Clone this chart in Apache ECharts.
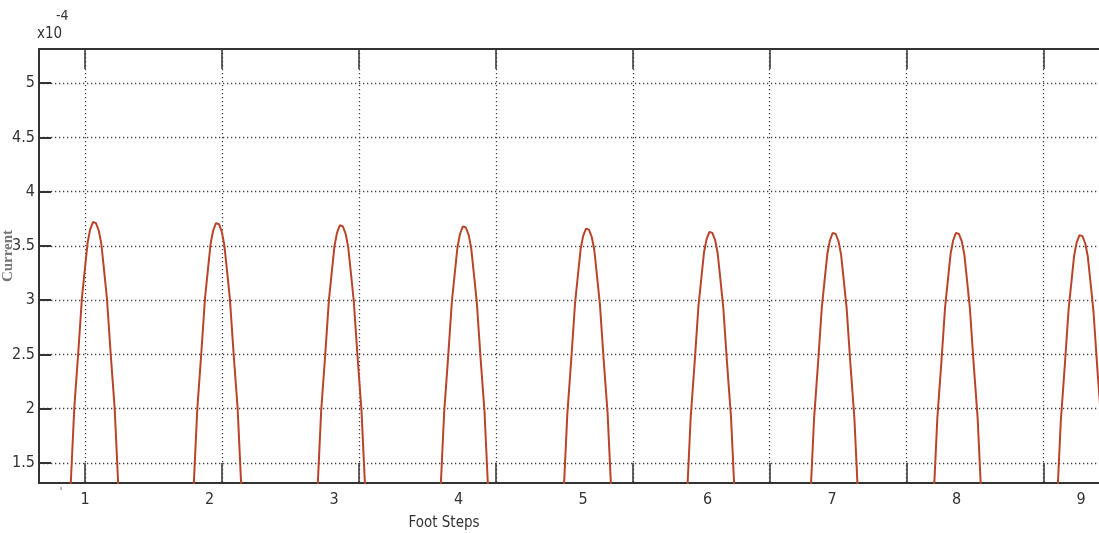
<!DOCTYPE html>
<html>
<head>
<meta charset="utf-8">
<script src="https://cdn.jsdelivr.net/npm/echarts@6/dist/echarts.min.js"></script>
<style>
  html, body { margin: 0; padding: 0; background: #fff; }
  #chart { width: 1099px; height: 533px; }
</style>
</head>
<body>
<div id="chart"></div>
<script>
// values, current in units of 1e-4
var pulse1 = [[0.836,0.3],[0.886,1.32],[0.914,2.01],[0.946,2.52],[0.976,3.03],[1.001,3.31],[1.021,3.53],[1.041,3.65],[1.064,3.72],[1.088,3.71],[1.111,3.64],[1.131,3.52],[1.151,3.30],[1.176,3.02],[1.206,2.51],[1.238,2.01],[1.266,1.32],[1.316,0.3]];
var pulse2 = [[1.824,0.3],[1.874,1.31],[1.902,2.00],[1.934,2.51],[1.964,3.02],[1.989,3.30],[2.009,3.52],[2.029,3.64],[2.052,3.71],[2.076,3.70],[2.099,3.63],[2.119,3.51],[2.139,3.29],[2.164,3.01],[2.194,2.50],[2.226,2.00],[2.254,1.31],[2.304,0.3]];
var pulse3 = [[2.819,0.3],[2.869,1.29],[2.897,1.98],[2.929,2.49],[2.959,3.00],[2.984,3.28],[3.004,3.50],[3.024,3.62],[3.047,3.69],[3.071,3.68],[3.094,3.61],[3.114,3.49],[3.134,3.27],[3.159,2.99],[3.189,2.48],[3.221,1.98],[3.249,1.29],[3.299,0.3]];
var pulse4 = [[3.807,0.3],[3.857,1.28],[3.885,1.97],[3.917,2.48],[3.947,2.99],[3.972,3.27],[3.992,3.49],[4.012,3.61],[4.035,3.68],[4.059,3.67],[4.082,3.60],[4.102,3.48],[4.122,3.26],[4.147,2.98],[4.177,2.47],[4.209,1.97],[4.237,1.28],[4.287,0.3]];
var pulse5 = [[4.796,0.3],[4.846,1.26],[4.874,1.95],[4.906,2.46],[4.936,2.97],[4.961,3.25],[4.981,3.47],[5.001,3.59],[5.024,3.66],[5.048,3.65],[5.071,3.58],[5.091,3.46],[5.111,3.24],[5.136,2.96],[5.166,2.45],[5.198,1.95],[5.226,1.26],[5.276,0.3]];
var pulse6 = [[5.787,0.3],[5.837,1.23],[5.865,1.92],[5.897,2.43],[5.927,2.94],[5.952,3.22],[5.972,3.44],[5.992,3.56],[6.015,3.63],[6.039,3.62],[6.062,3.55],[6.082,3.43],[6.102,3.21],[6.127,2.93],[6.157,2.42],[6.189,1.92],[6.217,1.23],[6.267,0.3]];
var pulse7 = [[6.778,0.3],[6.828,1.22],[6.856,1.91],[6.888,2.42],[6.918,2.93],[6.943,3.21],[6.963,3.43],[6.983,3.55],[7.006,3.62],[7.030,3.61],[7.053,3.54],[7.073,3.42],[7.093,3.20],[7.118,2.92],[7.148,2.41],[7.180,1.91],[7.208,1.22],[7.258,0.3]];
var pulse8 = [[7.768,0.3],[7.818,1.22],[7.846,1.91],[7.878,2.42],[7.908,2.93],[7.933,3.21],[7.953,3.43],[7.973,3.55],[7.996,3.62],[8.020,3.61],[8.043,3.54],[8.063,3.42],[8.083,3.20],[8.108,2.92],[8.138,2.41],[8.170,1.91],[8.198,1.22],[8.248,0.3]];
var pulse9 = [[8.760,0.3],[8.810,1.20],[8.838,1.89],[8.870,2.40],[8.900,2.91],[8.925,3.19],[8.945,3.41],[8.965,3.53],[8.988,3.60],[9.012,3.59],[9.035,3.52],[9.055,3.40],[9.075,3.18],[9.100,2.90],[9.130,2.39],[9.162,1.89],[9.190,1.20],[9.240,0.3]];

var xLabels = [1, 2, 3, 4, 5, 6, 7, 8, 9];
var xTicks = [1, 2.1, 3.2, 4.3, 5.4, 6.5, 7.6, 8.7];
var yTicks = [1.5, 2, 2.5, 3, 3.5, 4, 4.5, 5];

var allPoints = pulse1.concat(pulse2, pulse3, pulse4, pulse5, pulse6, pulse7, pulse8, pulse9);

var myChart = echarts.init(document.getElementById('chart'));
var axisColor = '#333';
var narrow = "'Liberation Sans Narrow', 'DejaVu Sans Condensed', 'Arial Narrow', sans-serif";
var dotted = { show: true, lineStyle: { color: '#444', width: 1.3, type: [1.3, 2.7] } };

var option = {
    animation: false,
    backgroundColor: '#fff',
    grid: { left: 39, top: 49, right: 0, bottom: 50 },
    xAxis: [
        {
            type: 'value', position: 'bottom', min: 0.6305, max: 9.1446,
            axisLine: { show: true, onZero: false, lineStyle: { color: axisColor, width: 2 } },
            axisTick: { show: true, inside: true, length: 20, customValues: xTicks, lineStyle: { color: axisColor, width: 1.5 } },
            axisLabel: { customValues: xLabels, margin: 9, color: '#333', fontSize: 16, fontFamily: narrow },
            splitLine: dotted
        },
        {
            type: 'value', position: 'top', min: 0.6305, max: 9.1446,
            axisLine: { show: true, onZero: false, lineStyle: { color: axisColor, width: 2 } },
            axisTick: { show: true, inside: true, length: 20, customValues: xTicks, lineStyle: { color: axisColor, width: 1.5 } },
            axisLabel: { show: false },
            splitLine: { show: false }
        }
    ],
    yAxis: {
        type: 'value', min: 1.315, max: 5.315,
        axisLine: { show: true, onZero: false, lineStyle: { color: axisColor, width: 2 } },
        axisTick: { show: true, inside: true, length: 12, customValues: yTicks, lineStyle: { color: axisColor, width: 2 } },
        axisLabel: { customValues: yTicks, margin: 4, color: '#333', fontSize: 16, fontFamily: narrow },
        splitLine: dotted
    },
    graphic: [
        { type: 'text', left: 37, top: 27, style: { text: 'x10', fontSize: 15, fontFamily: narrow, fill: '#333' } },
        { type: 'text', left: 56, top: 9, style: { text: '-4', fontSize: 14, fontFamily: narrow, fill: '#333' } },
        { type: 'text', x: 8, y: 256, rotation: Math.PI / 2,
          style: { text: 'Current', fontSize: 15, fontWeight: 'bold', fontFamily: "'Liberation Serif', serif", fill: '#777', align: 'center', verticalAlign: 'middle' } },
        { type: 'text', x: 444, y: 523, style: { text: 'Foot Steps', fontSize: 15, fontFamily: narrow, fill: '#333', align: 'center', verticalAlign: 'middle' } },
        { type: 'text', x: 61, y: 492, style: { text: "'", fontSize: 11, fontFamily: narrow, fill: '#555', align: 'center', verticalAlign: 'middle' } }
    ],
    series: [
        {
            name: 'Current',
            type: 'line',
            data: allPoints,
            showSymbol: false,
            clip: true,
            lineStyle: { color: '#b8452a', width: 2 }
        }
    ]
};

myChart.setOption(option);
</script>
</body>
</html>
